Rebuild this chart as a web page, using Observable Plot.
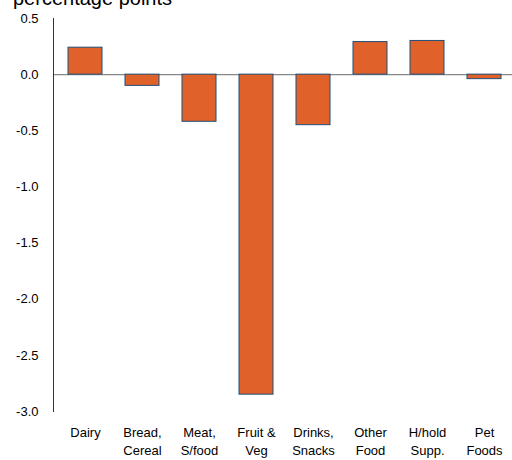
<!DOCTYPE html>
<html>
<head>
<meta charset="utf-8">
<script src="https://cdn.jsdelivr.net/npm/d3@7"></script>
<script src="https://cdn.jsdelivr.net/npm/@observablehq/plot@0.6"></script>
<style>
  body { margin: 0; background: #fff; overflow: hidden; }
  #wrap { position: relative; width: 512px; height: 460px; font-family: "Liberation Sans", Arial, sans-serif; }
  #title { position: absolute; left: 13px; top: -12px; font-size: 20px; line-height: 20px; color: #000; white-space: nowrap; }
</style>
</head>
<body>
<div id="wrap"><div id="title">percentage points</div></div>
<script>
const categories = ["Dairy", "Bread,\nCereal", "Meat,\nS/food", "Fruit &\nVeg", "Drinks,\nSnacks", "Other\nFood", "H/hold\nSupp.", "Pet\nFoods"];
const values = [0.24, -0.10, -0.42, -2.85, -0.45, 0.29, 0.30, -0.04];
const yTicks = [0.5, 0.0, -0.5, -1.0, -1.5, -2.0, -2.5, -3.0];

const data = categories.map((c, i) => ({category: c, value: values[i]}));

const chart = Plot.plot({
  width: 512,
  height: 460,
  marginLeft: 53,
  marginRight: -4,
  marginTop: 18,
  marginBottom: 49,
  style: {fontFamily: "'Liberation Sans', Arial, sans-serif", fontSize: "13px", color: "#000", background: "transparent"},
  x: {domain: categories, padding: 0.41, paddingOuter: 0.205, label: null},
  y: {domain: [-3, 0.5], label: null},
  marks: [
    Plot.ruleY([0], {stroke: "#888", strokeWidth: 1.2}),
    Plot.barY(data, {x: "category", y: "value", fill: "#E0622A", stroke: "#1F4E79", strokeWidth: 1}),
    Plot.frame({anchor: "left", stroke: "#333", strokeWidth: 1}),
    Plot.axisY({ticks: yTicks, tickSize: 0, tickPadding: 15, tickFormat: d => d.toFixed(1), fontSize: 13, label: null}),
    Plot.axisX({tickSize: 0, tickPadding: 12, lineHeight: 1.42, fontSize: 13, label: null, style: {letterSpacing: "0.5px"}})
  ]
});
document.getElementById("wrap").appendChild(chart);
</script>
</body>
</html>
